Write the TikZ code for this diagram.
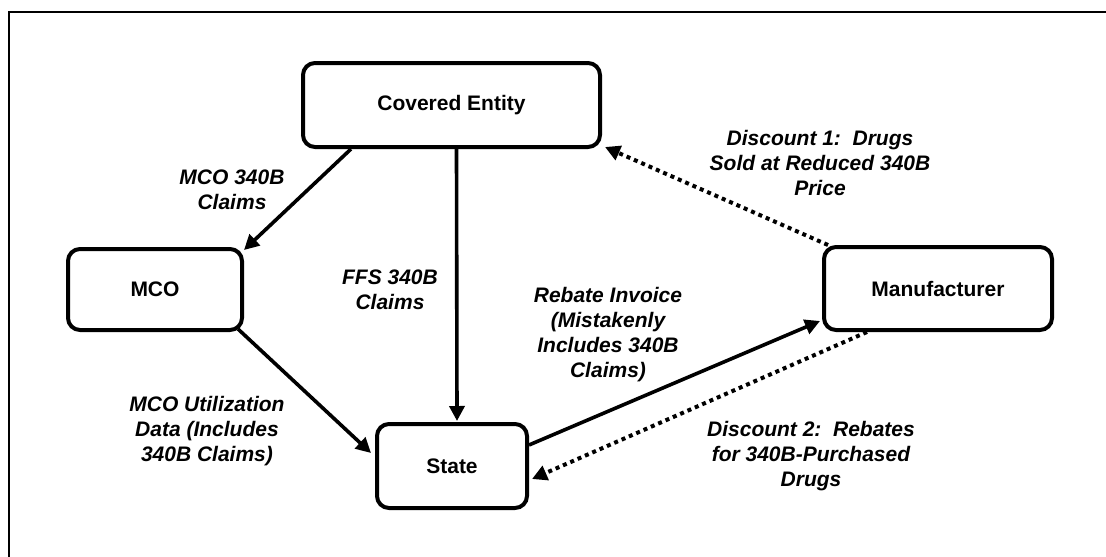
\documentclass[tikz,border=0pt]{standalone}
\usepackage{fontspec}
\setmainfont{Liberation Sans}
\usetikzlibrary{arrows.meta,calc}
\begin{document}
\begin{tikzpicture}[x=1pt,y=-1pt,
  box/.style={draw, line width=4pt, rounded corners=12pt, minimum width=#1, minimum height=83pt, inner sep=0pt, font=\fontsize{21}{24}\selectfont\bfseries},
  lbl/.style={align=center, font=\fontsize{21}{25}\selectfont\bfseries\itshape, inner sep=0pt},
  conn/.style={line width=3.6pt, -{Triangle[length=15pt,width=15pt]}},
  dotconn/.style={conn, line width=4pt, dash pattern=on 4pt off 4pt}]
\useasboundingbox (0,0) rectangle (1106,557);
\clip (0,0) rectangle (1106,557);
\draw[line width=2.6pt] (9,12) rectangle (1125,575);

\node[box=297pt, minimum height=84pt] (ce) at (451.5,105) {Covered Entity};
\node[box=174pt, minimum height=81pt] (mco) at (155,289.5) {MCO};
\node[box=150pt, minimum height=84pt] (st) at (452,466) {State};
\node[box=228pt] (mf) at (938,288.5) {Manufacturer};

\draw[conn] ($(ce.south west)+(50,0)$) -- ($(mco.north east)+(0,3)$);
\draw[conn] ($(ce.south)+(5,0)$) -- ($(st.north)+(5,-1)$);
\draw[conn] ($(mco.south east)+(-6,-3)$) -- ($(st.north west)+(-4,31)$);
\draw[conn] ($(st.east)+(0,-21)$) -- ($(mf.south west)+(-2,-11)$);
\draw[dotconn] ($(mf.south)+(-71,0)$) -- ($(st.east)+(3,13)$);
\draw[dotconn] ($(mf.north west)+(6,0)$) -- ($(ce.south east)+(3,-2)$);

\node[lbl] (l1) at (232,189.5) {MCO 340B\\Claims};
\node[lbl] (l2) at (390,289.5) {FFS 340B\\Claims};
\node[lbl] (l3) at (608,335) {Rebate Invoice\\(Mistakenly\\Includes 340B\\Claims)};
\node[lbl] (l4) at (207,431) {MCO Utilization\\Data (Includes\\340B Claims)};
\node[lbl] (l5) at (820,163) {Discount 1:\ \ Drugs\\Sold at Reduced 340B\\Price};
\node[lbl] (l6) at (811,456) {Discount 2:\ \ Rebates\\for 340B-Purchased\\Drugs};
\end{tikzpicture}
\end{document}
